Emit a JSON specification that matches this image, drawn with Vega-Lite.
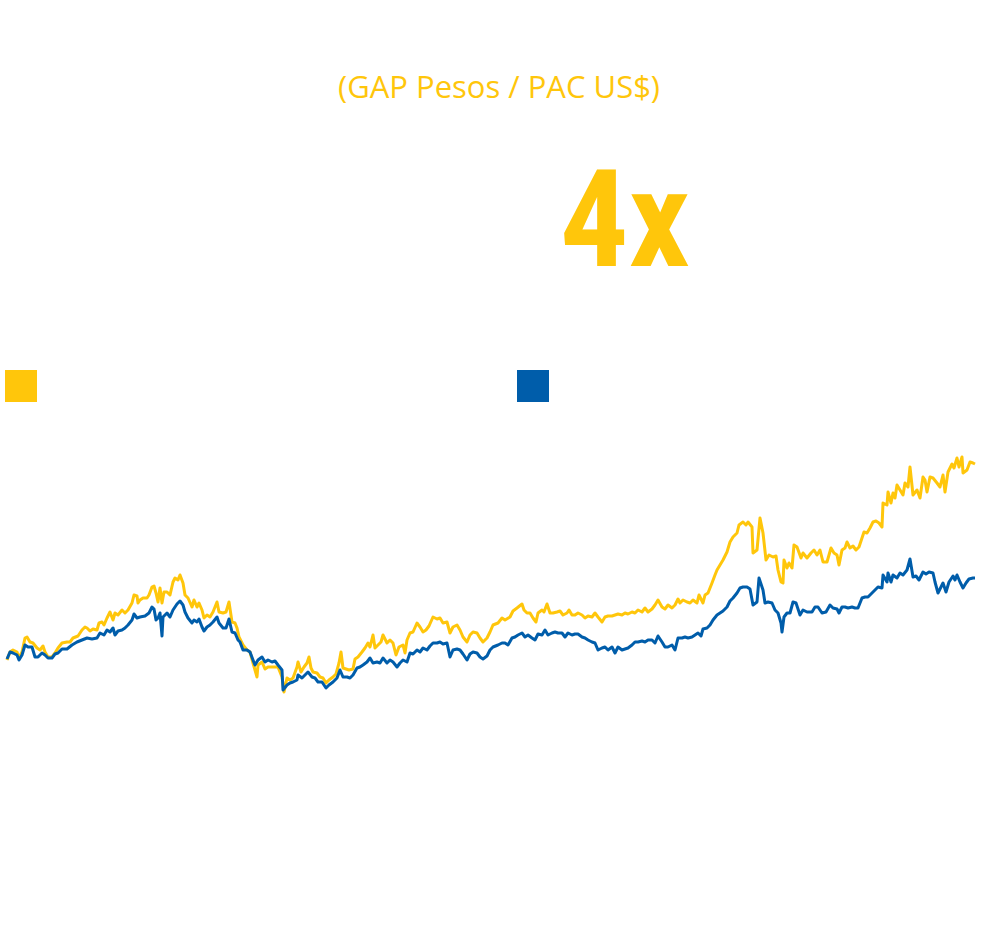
{
  "$schema": "https://vega.github.io/schema/vega-lite/v6.json",
  "width": 1000,
  "height": 949,
  "autosize": {"type": "fit", "contains": "padding"},
  "padding": 0,
  "background": "white",
  "config": {"view": {"stroke": null}},
  "datasets": {
    "gap": [
      {"t":7,"v":40},{"t":10,"v":48},{"t":13,"v":50},{"t":17,"v":48},{"t":19,"v":42},{"t":22,"v":48},{"t":25,"v":62},{"t":27,"v":63},{"t":30,"v":58},{"t":33,"v":57},
      {"t":37,"v":52},{"t":40,"v":50},{"t":43,"v":54},{"t":45,"v":48},{"t":48,"v":43},{"t":52,"v":43},{"t":55,"v":47},{"t":58,"v":52},{"t":62,"v":57},{"t":67,"v":58},
      {"t":70,"v":58},{"t":73,"v":62},{"t":78,"v":64},{"t":82,"v":70},{"t":85,"v":73},{"t":87,"v":72},{"t":90,"v":69},{"t":93,"v":71},{"t":97,"v":70},{"t":99,"v":77},
      {"t":102,"v":78},{"t":104,"v":75},{"t":107,"v":82},{"t":110,"v":88},{"t":113,"v":80},{"t":115,"v":87},{"t":118,"v":85},{"t":122,"v":90},{"t":125,"v":87},{"t":128,"v":90},
      {"t":132,"v":97},{"t":134,"v":105},{"t":137,"v":104},{"t":138,"v":97},{"t":140,"v":100},{"t":143,"v":102},{"t":147,"v":102},{"t":149,"v":105},{"t":152,"v":113},{"t":154,"v":114},
      {"t":156,"v":107},{"t":158,"v":98},{"t":160,"v":112},{"t":162,"v":97},{"t":164,"v":108},{"t":167,"v":108},{"t":170,"v":105},{"t":173,"v":118},{"t":175,"v":122},{"t":178,"v":120},
      {"t":180,"v":125},{"t":183,"v":117},{"t":185,"v":105},{"t":188,"v":102},{"t":192,"v":93},{"t":194,"v":100},{"t":197,"v":93},{"t":199,"v":97},{"t":202,"v":90},{"t":204,"v":82},
      {"t":207,"v":85},{"t":210,"v":83},{"t":213,"v":88},{"t":217,"v":98},{"t":219,"v":88},{"t":223,"v":87},{"t":226,"v":88},{"t":229,"v":98},{"t":232,"v":78},{"t":235,"v":77},
      {"t":237,"v":72},{"t":239,"v":63},{"t":243,"v":55},{"t":247,"v":50},{"t":250,"v":48},{"t":253,"v":37},{"t":257,"v":23},{"t":258,"v":35},{"t":262,"v":38},{"t":265,"v":31},
      {"t":268,"v":33},{"t":272,"v":33},{"t":275,"v":33},{"t":278,"v":33},{"t":282,"v":23},{"t":284,"v":8},{"t":287,"v":22},{"t":290,"v":20},{"t":293,"v":22},{"t":297,"v":33},
      {"t":298,"v":38},{"t":301,"v":28},{"t":304,"v":33},{"t":307,"v":37},{"t":309,"v":43},{"t":311,"v":32},{"t":313,"v":28},{"t":317,"v":27},{"t":320,"v":23},{"t":323,"v":22},
      {"t":326,"v":17},{"t":329,"v":20},{"t":333,"v":23},{"t":336,"v":26},{"t":339,"v":37},{"t":341,"v":48},{"t":343,"v":32},{"t":346,"v":31},{"t":349,"v":30},{"t":353,"v":31},
      {"t":355,"v":41},{"t":358,"v":43},{"t":362,"v":48},{"t":365,"v":52},{"t":368,"v":57},{"t":370,"v":53},{"t":373,"v":65},{"t":375,"v":52},{"t":378,"v":55},{"t":381,"v":58},
      {"t":383,"v":65},{"t":387,"v":57},{"t":390,"v":60},{"t":393,"v":57},{"t":396,"v":45},{"t":399,"v":53},{"t":403,"v":55},{"t":405,"v":47},{"t":407,"v":60},{"t":410,"v":67},
      {"t":413,"v":68},{"t":417,"v":77},{"t":420,"v":73},{"t":423,"v":68},{"t":426,"v":70},{"t":429,"v":74},{"t":433,"v":83},{"t":437,"v":81},{"t":440,"v":82},{"t":443,"v":77},
      {"t":447,"v":78},{"t":450,"v":67},{"t":453,"v":73},{"t":457,"v":75},{"t":460,"v":70},{"t":463,"v":63},{"t":467,"v":58},{"t":470,"v":65},{"t":473,"v":68},{"t":477,"v":67},
      {"t":480,"v":62},{"t":483,"v":58},{"t":487,"v":62},{"t":490,"v":68},{"t":493,"v":75},{"t":498,"v":77},{"t":502,"v":82},{"t":505,"v":80},{"t":510,"v":83},{"t":513,"v":89},
      {"t":517,"v":92},{"t":522,"v":96},{"t":524,"v":90},{"t":527,"v":87},{"t":530,"v":87},{"t":533,"v":82},{"t":536,"v":78},{"t":538,"v":87},{"t":542,"v":90},{"t":544,"v":88},
      {"t":547,"v":96},{"t":550,"v":87},{"t":553,"v":87},{"t":557,"v":88},{"t":560,"v":89},{"t":563,"v":85},{"t":567,"v":87},{"t":569,"v":90},{"t":572,"v":85},{"t":575,"v":85},
      {"t":578,"v":87},{"t":582,"v":85},{"t":585,"v":82},{"t":588,"v":84},{"t":592,"v":83},{"t":595,"v":87},{"t":598,"v":83},{"t":602,"v":78},{"t":605,"v":83},{"t":608,"v":84},
      {"t":612,"v":84},{"t":615,"v":85},{"t":618,"v":86},{"t":622,"v":85},{"t":625,"v":87},{"t":628,"v":86},{"t":632,"v":88},{"t":635,"v":87},{"t":638,"v":90},{"t":642,"v":88},
      {"t":645,"v":92},{"t":648,"v":88},{"t":652,"v":91},{"t":655,"v":95},{"t":658,"v":100},{"t":662,"v":93},{"t":665,"v":91},{"t":668,"v":95},{"t":672,"v":92},{"t":675,"v":95},
      {"t":678,"v":101},{"t":680,"v":97},{"t":683,"v":100},{"t":687,"v":98},{"t":690,"v":97},{"t":693,"v":100},{"t":697,"v":97},{"t":699,"v":105},{"t":703,"v":97},{"t":705,"v":105},
      {"t":708,"v":107},{"t":712,"v":117},{"t":715,"v":125},{"t":717,"v":130},{"t":720,"v":135},{"t":723,"v":140},{"t":727,"v":148},{"t":730,"v":158},{"t":733,"v":163},{"t":737,"v":167},
      {"t":739,"v":175},{"t":743,"v":178},{"t":746,"v":175},{"t":748,"v":178},{"t":752,"v":173},{"t":753,"v":147},{"t":757,"v":150},{"t":760,"v":182},{"t":763,"v":167},{"t":766,"v":140},
      {"t":769,"v":145},{"t":773,"v":143},{"t":776,"v":144},{"t":778,"v":130},{"t":781,"v":118},{"t":783,"v":117},{"t":784,"v":140},{"t":787,"v":132},{"t":789,"v":137},{"t":792,"v":132},
      {"t":794,"v":155},{"t":797,"v":153},{"t":801,"v":142},{"t":803,"v":147},{"t":807,"v":142},{"t":811,"v":147},{"t":814,"v":150},{"t":817,"v":145},{"t":820,"v":150},{"t":823,"v":138},
      {"t":827,"v":138},{"t":831,"v":152},{"t":834,"v":147},{"t":837,"v":145},{"t":839,"v":135},{"t":842,"v":150},{"t":845,"v":152},{"t":847,"v":158},{"t":850,"v":152},{"t":853,"v":154},
      {"t":856,"v":150},{"t":859,"v":153},{"t":862,"v":162},{"t":864,"v":168},{"t":867,"v":167},{"t":870,"v":172},{"t":873,"v":178},{"t":876,"v":179},{"t":879,"v":177},{"t":882,"v":173},
      {"t":883,"v":197},{"t":887,"v":195},{"t":888,"v":208},{"t":891,"v":197},{"t":893,"v":207},{"t":895,"v":202},{"t":897,"v":215},{"t":900,"v":210},{"t":903,"v":205},{"t":905,"v":217},
      {"t":908,"v":213},{"t":910,"v":233},{"t":913,"v":205},{"t":917,"v":210},{"t":920,"v":202},{"t":923,"v":223},{"t":925,"v":220},{"t":927,"v":208},{"t":930,"v":223},{"t":933,"v":222},
      {"t":937,"v":217},{"t":940,"v":213},{"t":943,"v":225},{"t":945,"v":208},{"t":948,"v":228},{"t":952,"v":236},{"t":954,"v":232},{"t":957,"v":242},{"t":959,"v":233},{"t":962,"v":243},
      {"t":963,"v":227},{"t":967,"v":230},{"t":970,"v":238},{"t":973,"v":237},{"t":975,"v":236}
    ],
    "pac": [
      {"t":7,"v":41},{"t":10,"v":48},{"t":13,"v":47},{"t":17,"v":45},{"t":19,"v":40},{"t":22,"v":45},{"t":25,"v":55},{"t":28,"v":53},{"t":32,"v":53},{"t":35,"v":43},
      {"t":38,"v":43},{"t":42,"v":47},{"t":45,"v":45},{"t":48,"v":42},{"t":52,"v":42},{"t":55,"v":46},{"t":58,"v":47},{"t":62,"v":51},{"t":67,"v":51},{"t":72,"v":55},
      {"t":77,"v":58},{"t":82,"v":60},{"t":87,"v":62},{"t":92,"v":61},{"t":97,"v":62},{"t":100,"v":67},{"t":104,"v":65},{"t":107,"v":70},{"t":110,"v":68},{"t":113,"v":72},
      {"t":115,"v":65},{"t":118,"v":69},{"t":122,"v":70},{"t":125,"v":72},{"t":128,"v":75},{"t":132,"v":80},{"t":134,"v":86},{"t":137,"v":82},{"t":140,"v":83},{"t":145,"v":84},
      {"t":149,"v":87},{"t":152,"v":93},{"t":154,"v":91},{"t":156,"v":80},{"t":158,"v":82},{"t":160,"v":87},{"t":162,"v":64},{"t":163,"v":83},{"t":167,"v":87},{"t":170,"v":83},
      {"t":173,"v":90},{"t":177,"v":96},{"t":180,"v":99},{"t":183,"v":95},{"t":185,"v":88},{"t":188,"v":82},{"t":192,"v":77},{"t":194,"v":80},{"t":197,"v":78},{"t":199,"v":81},
      {"t":202,"v":73},{"t":204,"v":69},{"t":207,"v":73},{"t":210,"v":75},{"t":213,"v":78},{"t":217,"v":83},{"t":219,"v":77},{"t":223,"v":72},{"t":226,"v":72},{"t":229,"v":81},
      {"t":232,"v":68},{"t":235,"v":67},{"t":238,"v":60},{"t":240,"v":58},{"t":243,"v":50},{"t":247,"v":50},{"t":250,"v":48},{"t":253,"v":40},{"t":255,"v":35},{"t":258,"v":40},
      {"t":262,"v":43},{"t":265,"v":38},{"t":268,"v":40},{"t":272,"v":38},{"t":275,"v":39},{"t":278,"v":35},{"t":282,"v":30},{"t":283,"v":10},{"t":287,"v":15},{"t":290,"v":17},
      {"t":293,"v":18},{"t":297,"v":20},{"t":298,"v":25},{"t":302,"v":22},{"t":305,"v":25},{"t":308,"v":28},{"t":312,"v":23},{"t":315,"v":22},{"t":318,"v":18},{"t":322,"v":18},
      {"t":326,"v":12},{"t":329,"v":15},{"t":333,"v":18},{"t":337,"v":22},{"t":340,"v":30},{"t":343,"v":23},{"t":347,"v":23},{"t":350,"v":22},{"t":353,"v":25},{"t":357,"v":32},
      {"t":360,"v":33},{"t":363,"v":35},{"t":367,"v":38},{"t":370,"v":42},{"t":373,"v":37},{"t":377,"v":38},{"t":380,"v":37},{"t":383,"v":42},{"t":387,"v":37},{"t":390,"v":40},
      {"t":393,"v":38},{"t":397,"v":33},{"t":400,"v":37},{"t":403,"v":40},{"t":407,"v":38},{"t":410,"v":47},{"t":413,"v":46},{"t":417,"v":50},{"t":420,"v":48},{"t":423,"v":52},
      {"t":427,"v":50},{"t":430,"v":54},{"t":433,"v":57},{"t":437,"v":57},{"t":440,"v":58},{"t":443,"v":56},{"t":447,"v":57},{"t":450,"v":43},{"t":453,"v":50},{"t":457,"v":51},
      {"t":460,"v":50},{"t":463,"v":46},{"t":467,"v":40},{"t":470,"v":46},{"t":473,"v":48},{"t":477,"v":47},{"t":480,"v":43},{"t":483,"v":41},{"t":487,"v":44},{"t":490,"v":50},
      {"t":493,"v":53},{"t":498,"v":55},{"t":502,"v":57},{"t":505,"v":57},{"t":508,"v":55},{"t":512,"v":62},{"t":515,"v":63},{"t":518,"v":65},{"t":522,"v":67},{"t":525,"v":63},
      {"t":528,"v":65},{"t":532,"v":62},{"t":535,"v":60},{"t":538,"v":66},{"t":542,"v":65},{"t":545,"v":70},{"t":548,"v":65},{"t":552,"v":67},{"t":555,"v":68},{"t":558,"v":67},
      {"t":562,"v":67},{"t":565,"v":63},{"t":568,"v":67},{"t":572,"v":65},{"t":575,"v":66},{"t":578,"v":66},{"t":582,"v":63},{"t":585,"v":62},{"t":588,"v":60},{"t":592,"v":58},
      {"t":595,"v":57},{"t":598,"v":50},{"t":602,"v":52},{"t":605,"v":53},{"t":608,"v":50},{"t":612,"v":53},{"t":615,"v":47},{"t":618,"v":53},{"t":622,"v":50},{"t":625,"v":51},
      {"t":628,"v":52},{"t":632,"v":55},{"t":635,"v":58},{"t":638,"v":58},{"t":642,"v":59},{"t":645,"v":58},{"t":648,"v":60},{"t":652,"v":60},{"t":655,"v":57},{"t":658,"v":64},
      {"t":662,"v":58},{"t":665,"v":53},{"t":668,"v":53},{"t":672,"v":55},{"t":675,"v":50},{"t":678,"v":62},{"t":682,"v":62},{"t":685,"v":63},{"t":688,"v":62},{"t":692,"v":63},
      {"t":695,"v":65},{"t":698,"v":67},{"t":701,"v":64},{"t":703,"v":71},{"t":707,"v":72},{"t":710,"v":75},{"t":713,"v":80},{"t":717,"v":85},{"t":720,"v":87},{"t":723,"v":89},
      {"t":727,"v":93},{"t":730,"v":99},{"t":733,"v":102},{"t":737,"v":107},{"t":740,"v":112},{"t":743,"v":113},{"t":747,"v":113},{"t":750,"v":111},{"t":753,"v":95},{"t":757,"v":98},
      {"t":759,"v":122},{"t":763,"v":110},{"t":765,"v":97},{"t":768,"v":98},{"t":772,"v":97},{"t":775,"v":90},{"t":778,"v":87},{"t":781,"v":77},{"t":782,"v":68},{"t":784,"v":83},
      {"t":787,"v":87},{"t":790,"v":87},{"t":793,"v":98},{"t":796,"v":97},{"t":800,"v":85},{"t":803,"v":90},{"t":807,"v":88},{"t":812,"v":88},{"t":815,"v":93},{"t":818,"v":93},
      {"t":822,"v":87},{"t":826,"v":88},{"t":830,"v":95},{"t":833,"v":92},{"t":837,"v":91},{"t":839,"v":87},{"t":842,"v":93},{"t":845,"v":93},{"t":848,"v":92},{"t":852,"v":93},
      {"t":855,"v":92},{"t":858,"v":92},{"t":862,"v":102},{"t":865,"v":103},{"t":868,"v":103},{"t":872,"v":107},{"t":875,"v":110},{"t":878,"v":113},{"t":882,"v":112},{"t":883,"v":125},
      {"t":887,"v":118},{"t":888,"v":127},{"t":891,"v":118},{"t":893,"v":125},{"t":897,"v":122},{"t":900,"v":127},{"t":903,"v":125},{"t":907,"v":130},{"t":910,"v":141},{"t":913,"v":123},
      {"t":916,"v":124},{"t":919,"v":120},{"t":923,"v":128},{"t":926,"v":126},{"t":929,"v":128},{"t":933,"v":127},{"t":935,"v":118},{"t":938,"v":107},{"t":941,"v":113},{"t":943,"v":117},
      {"t":946,"v":108},{"t":949,"v":118},{"t":953,"v":124},{"t":955,"v":120},{"t":957,"v":125},{"t":960,"v":118},{"t":963,"v":112},{"t":966,"v":117},{"t":969,"v":121},{"t":973,"v":122},
      {"t":975,"v":122}
    ],
    "leyenda": [
      {"t":21,"v":314,"serie":"GAP Pesos"},
      {"t":533,"v":314,"serie":"PAC US$"}
    ],
    "textos": [
      {"t":499,"v":602,"label":"(GAP Pesos / PAC US$)"}
    ],
    "grande": [
      {"t":625,"v":434,"label":"4x"}
    ]
  },
  "encoding": {
    "x": {"field": "t", "type": "quantitative", "scale": {"domain": [0, 1000]}, "axis": null},
    "y": {"field": "v", "type": "quantitative", "scale": {"domain": [-249, 700]}, "axis": null}
  },
  "layer": [
    {
      "data": {"name": "gap"},
      "mark": {"type": "line", "color": "#FFC60B", "strokeWidth": 3, "strokeJoin": "round", "clip": true}
    },
    {
      "data": {"name": "pac"},
      "mark": {"type": "line", "color": "#005DAA", "strokeWidth": 3, "strokeJoin": "round", "clip": true}
    },
    {
      "data": {"name": "leyenda"},
      "mark": {"type": "point", "shape": "square", "size": 1024, "filled": true, "opacity": 1, "strokeWidth": 0},
      "encoding": {
        "color": {"field": "serie", "type": "nominal", "scale": {"domain": ["GAP Pesos", "PAC US$"], "range": ["#FFC60B", "#005DAA"]}, "legend": null}
      }
    },
    {
      "data": {"name": "textos"},
      "mark": {"type": "text", "font": "Open Sans", "fontSize": 31, "color": "#FFC60B", "align": "center", "baseline": "alphabetic"},
      "encoding": {"text": {"field": "label"}}
    },
    {
      "data": {"name": "grande"},
      "mark": {"type": "text", "font": "Liberation Sans Narrow, Roboto Condensed, Open Sans", "fontSize": 136, "fontWeight": "bold", "color": "#FFC60B", "align": "center", "baseline": "alphabetic"},
      "encoding": {"text": {"field": "label"}}
    }
  ]
}
